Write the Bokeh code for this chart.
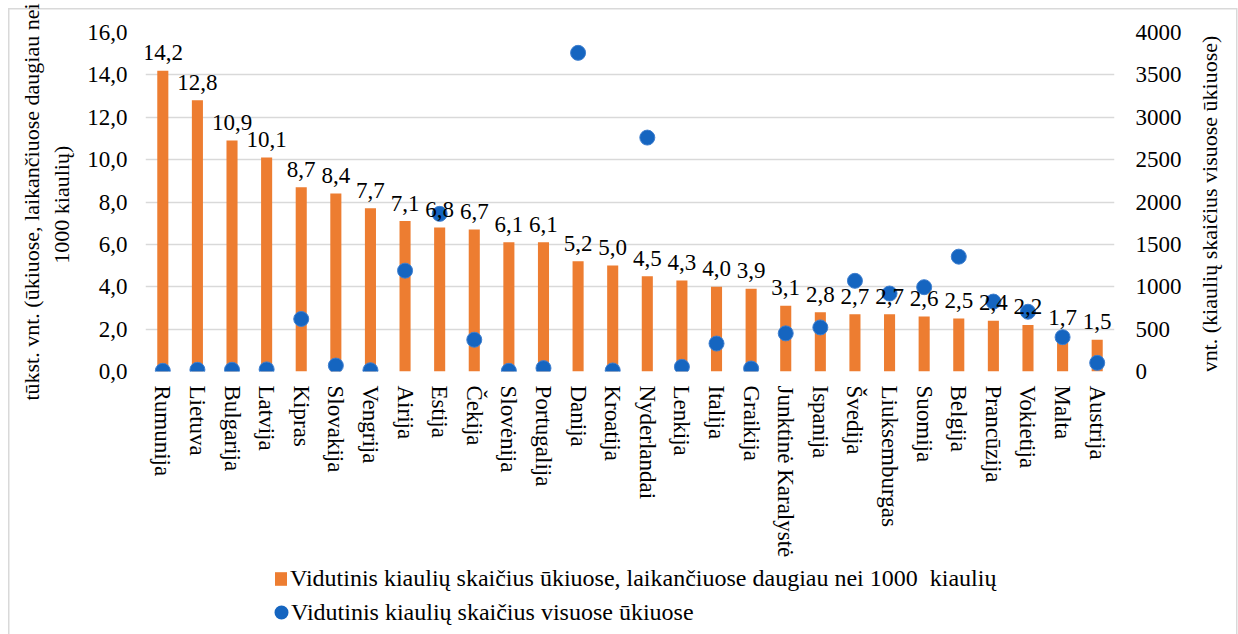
import math
from bokeh.plotting import figure
from bokeh.layouts import column, row
from bokeh.models import (Range1d, LinearAxis, FactorRange, FixedTicker, Legend, LegendItem,
                          ColumnDataSource, Label)
from bokeh.core.properties import value
from bokeh.embed import file_html
from bokeh.resources import INLINE

countries = ["Rumunija", "Lietuva", "Bulgarija", "Latvija", "Kipras", "Slovakija", "Vengrija",
             "Airija", "Estija", "Čekija", "Slovėnija", "Portugalija", "Danija", "Kroatija",
             "Nyderlandai", "Lenkija", "Italija", "Graikija", "Junktinė Karalystė", "Ispanija",
             "Švedija", "Liuksemburgas", "Suomija", "Belgija", "Prancūzija", "Vokietija",
             "Malta", "Austrija"]
large_farms = [14.2, 12.8, 10.9, 10.1, 8.7, 8.4, 7.7, 7.1, 6.8, 6.7, 6.1, 6.1, 5.2, 5.0,
               4.5, 4.3, 4.0, 3.9, 3.1, 2.8, 2.7, 2.7, 2.6, 2.5, 2.4, 2.2, 1.7, 1.5]
all_farms = [8, 20, 20, 25, 620, 70, 15, 1190, 1860, 375, 8, 40, 3760, 12,
             2760, 55, 330, 35, 450, 520, 1070, 920, 995, 1355, 825, 705, 405, 102]
left_ticks = [0, 2, 4, 6, 8, 10, 12, 14, 16]
right_ticks = [0, 500, 1000, 1500, 2000, 2500, 3000, 3500, 4000]

name_bar = "Vidutinis kiaulių skaičius ūkiuose, laikančiuose daugiau nei 1000  kiaulių"
name_dot = "Vidutinis kiaulių skaičius visuose ūkiuose"
left_title = "tūkst. vnt. (ūkiuose, laikančiuose daugiau nei\n1000  kiaulių)"
right_title = "vnt. (kiaulių skaičius visuose ūkiuose)"

FONT = "Liberation Serif"
FS = "23px"
FS_LEG = "24px"
FS_TITLE = "22px"
GRID = "#d9d9d9"
BAR_COLOR = "#ED7D31"
DOT_FILL = "#1565C0"
DOT_LINE = "#3f7fcf"

src = ColumnDataSource(dict(
    c=countries, big=large_farms, allf=all_farms,
    lbl=[f"{v:.1f}".replace(".", ",") for v in large_farms],
))

common = dict(output_backend="svg", toolbar_location=None, outline_line_color=None,
              background_fill_color="white", border_fill_alpha=0)

# ---------------- main chart ----------------
p = figure(width=1190, height=560, x_range=FactorRange(factors=countries),
           y_range=Range1d(0, 16), min_border_left=145, min_border_right=76,
           min_border_top=32, min_border_bottom=188, **common)
p.extra_y_ranges = {"right": Range1d(0, 4000)}

p.vbar(x="c", top="big", width=0.32, source=src, fill_color=BAR_COLOR, line_color=None)
p.scatter(x="c", y="allf", y_range_name="right", source=src, size=15,
          fill_color=DOT_FILL, line_color=DOT_LINE, line_width=1)
p.text(x="c", y="big", text="lbl", source=src, text_align="center",
       text_baseline="alphabetic", y_offset=-18, text_font=value(FONT),
       text_font_size=FS, text_color="black")

p.xgrid.grid_line_color = None
p.ygrid.grid_line_color = GRID
p.ygrid.grid_line_width = 1.5
p.ygrid.ticker = FixedTicker(ticks=left_ticks)

la = p.yaxis[0]
la.ticker = FixedTicker(ticks=left_ticks)
la.major_label_overrides = {t: f"{t:.1f}".replace(".", ",") for t in left_ticks}
la.axis_label = left_title
la.major_label_standoff = 18
la.axis_label_standoff = 10

ra = LinearAxis(y_range_name="right", ticker=FixedTicker(ticks=right_ticks))
ra.major_label_standoff = 21
p.add_layout(ra, "right")

for ax in (la, ra):
    ax.axis_line_color = None
    ax.major_tick_line_color = None
    ax.minor_tick_line_color = None
    ax.major_tick_out = 0
    ax.major_label_text_font = FONT
    ax.major_label_text_font_size = FS
    ax.major_label_text_color = "black"
    ax.axis_label_text_font = FONT
    ax.axis_label_text_font_size = FS_TITLE
    ax.axis_label_text_font_style = "normal"
    ax.axis_label_text_color = "black"

xa = p.xaxis[0]
xa.axis_line_color = None
xa.major_tick_line_color = None
xa.major_tick_out = 0
xa.major_label_orientation = -math.pi / 2
xa.major_label_text_font = FONT
xa.major_label_text_font_size = FS
xa.major_label_text_color = "black"
xa.major_label_standoff = 14

# ---------------- right axis title strip (frame aligned with the chart) ----------------
pr = figure(width=48, height=560, x_range=Range1d(0, 48), y_range=Range1d(0, 340),
            x_axis_type=None, y_axis_type=None, min_border=0, **common)
pr.background_fill_alpha = 0
pr.grid.visible = False
pr.add_layout(Label(x=19, y=168, text=right_title, angle=math.pi / 2,
                    text_align="center", text_baseline="middle", text_font=FONT,
                    text_font_size=FS_TITLE, text_color="black"))

# ---------------- legend strip ----------------
pl = figure(width=1238, height=74, x_range=FactorRange(factors=countries),
            y_range=Range1d(-1000, -999), x_axis_type=None, y_axis_type=None,
            min_border=0, **common)
pl.background_fill_alpha = 0
pl.grid.visible = False
lbar = pl.vbar(x="c", top="big", width=0, source=src, fill_color=BAR_COLOR,
               line_color=None)
ldot = pl.scatter(x="c", y="allf", source=src, size=0, fill_color=DOT_FILL,
                  line_color=DOT_FILL, line_width=6)

leg1 = Legend(items=[LegendItem(label=name_bar, renderers=[lbar])], location=(273, 42),
              glyph_width=15, glyph_height=17, label_height=20, label_standoff=2,
              padding=0, margin=0, border_line_color=None, background_fill_alpha=0,
              label_text_font=FONT, label_text_font_size=FS_LEG, label_text_color="black")
leg2 = Legend(items=[LegendItem(label=name_dot, renderers=[ldot])], location=(271, 4),
              glyph_width=20, glyph_height=36, label_height=20, label_standoff=0,
              padding=0, margin=0, border_line_color=None, background_fill_alpha=0,
              label_text_font=FONT, label_text_font_size=FS_LEG, label_text_color="black")
pl.add_layout(leg1)
pl.add_layout(leg2)

# chart-area border (left, top, right edges) drawn behind the transparent canvases
edge = "linear-gradient(#d9d9d9, #d9d9d9)"
layout = column(row(p, pr, spacing=0), pl, spacing=0, styles={
    "background": (f"{edge} 8px 8px / 1.5px 700px no-repeat, "
                   f"{edge} 8px 8px / 1229px 1.5px no-repeat, "
                   f"{edge} 1236px 8px / 1.5px 700px no-repeat, white"),
})

open("out.html", "w").write(file_html(layout, INLINE))
